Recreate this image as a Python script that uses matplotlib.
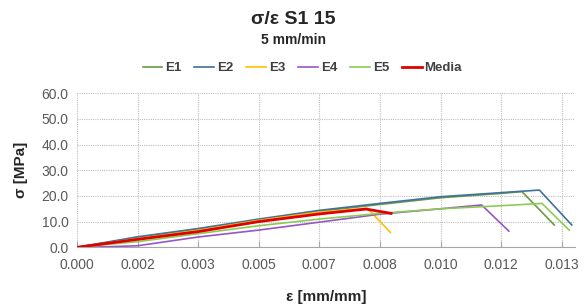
import numpy as np
import matplotlib.pyplot as plt
from matplotlib.ticker import FixedLocator, FuncFormatter

plt.rcParams['font.family'] = ['Liberation Sans', 'DejaVu Sans']

# strain [mm/mm] and stress [MPa]
e1_x = [0, 0.00167, 0.00333, 0.005, 0.00667, 0.00833, 0.010, 0.01167, 0.01224, 0.01313]
e1_y = [0, 3.8, 7.0, 10.6, 14.0, 16.7, 19.3, 21.0, 21.7, 8.7]

e2_x = [0, 0.00167, 0.00333, 0.005, 0.00667, 0.00833, 0.010, 0.01167, 0.01272, 0.01361]
e2_y = [0, 4.1, 7.3, 11.0, 14.4, 17.1, 19.7, 21.3, 22.3, 8.7]

e3_x = [0, 0.00167, 0.00333, 0.005, 0.00667, 0.00799, 0.00862]
e3_y = [0, 3.4, 6.6, 10.5, 13.7, 15.2, 5.8]

e4_x = [0, 0.0008, 0.00167, 0.00333, 0.005, 0.00667, 0.00833, 0.010, 0.01113, 0.01188]
e4_y = [0, 0.2, 0.6, 4.0, 6.7, 9.8, 12.9, 15.0, 16.5, 6.3]

e5_x = [0, 0.00167, 0.00333, 0.005, 0.00667, 0.00833, 0.010, 0.01167, 0.01279, 0.01354]
e5_y = [0, 2.2, 5.3, 8.4, 11.0, 13.2, 15.0, 16.2, 17.1, 6.7]

media_x = [0, 0.00167, 0.00333, 0.005, 0.00667, 0.00795, 0.00864]
media_y = [0, 3.1, 6.1, 10.0, 13.0, 14.9, 13.2]

x_ticks = [k / 600 for k in range(9)]
y_ticks = [0, 10, 20, 30, 40, 50, 60]

fig = plt.figure(figsize=(5.87, 3.07), dpi=100)
ax = fig.add_axes([0.1312, 0.1945, 0.8484, 0.5015])

ax.plot(e1_x, e1_y, color='#6A9A45', lw=1.2, label='E1')
ax.plot(e2_x, e2_y, color='#41719C', lw=1.2, label='E2')
ax.plot(e3_x, e3_y, color='#FFC000', lw=1.2, label='E3')
ax.plot(e4_x, e4_y, color='#9955C8', lw=1.2, label='E4')
ax.plot(e5_x, e5_y, color='#8CCB52', lw=1.2, label='E5')
ax.plot(media_x, media_y, color='#E00000', lw=2.0, label='Media')

ax.set_xlim(0, 0.0137)
ax.set_ylim(0, 60)
ax.xaxis.set_major_locator(FixedLocator(x_ticks))
ax.yaxis.set_major_locator(FixedLocator(y_ticks))
ax.xaxis.set_major_formatter(FuncFormatter(lambda v, p: f'{v:.3f}'))
ax.yaxis.set_major_formatter(FuncFormatter(lambda v, p: f'{v:.1f}'))

ax.grid(True, color='#BFBFBF', linestyle=(0, (1, 1)), lw=0.8)
ax.set_axisbelow(True)
for s in ['top', 'right', 'left']:
    ax.spines[s].set_visible(False)
ax.spines['bottom'].set_color('#A6A6A6')
ax.tick_params(axis='x', direction='in', length=4, color='#A6A6A6',
               labelsize=10, labelcolor='#595959', pad=8)
ax.tick_params(axis='y', length=0, labelsize=10, labelcolor='#595959', pad=6)

ax.set_xlabel('ε [mm/mm]', fontsize=11, fontweight='bold', color='#262626', labelpad=13)
ax.set_ylabel('σ [MPa]', fontsize=11, fontweight='bold', color='#262626', labelpad=10)

fig.text(0.5, 1 - 20 / 307, 'σ/ε S1 15', ha='center', va='center',
         fontsize=14, fontweight='bold', color='#262626')
fig.text(0.5, 1 - 40 / 307, '5 mm/min', ha='center', va='center',
         fontsize=10, fontweight='bold', color='#262626')

leg = fig.legend(loc='center', bbox_to_anchor=(0.515, 1 - 68 / 307), ncol=6,
                 frameon=False, handlelength=1.5, handletextpad=0.2,
                 columnspacing=1.0, prop={'weight': 'bold', 'size': 9.5})
for t in leg.get_texts():
    t.set_color('#404040')

fig.savefig('out.png', dpi=100)
